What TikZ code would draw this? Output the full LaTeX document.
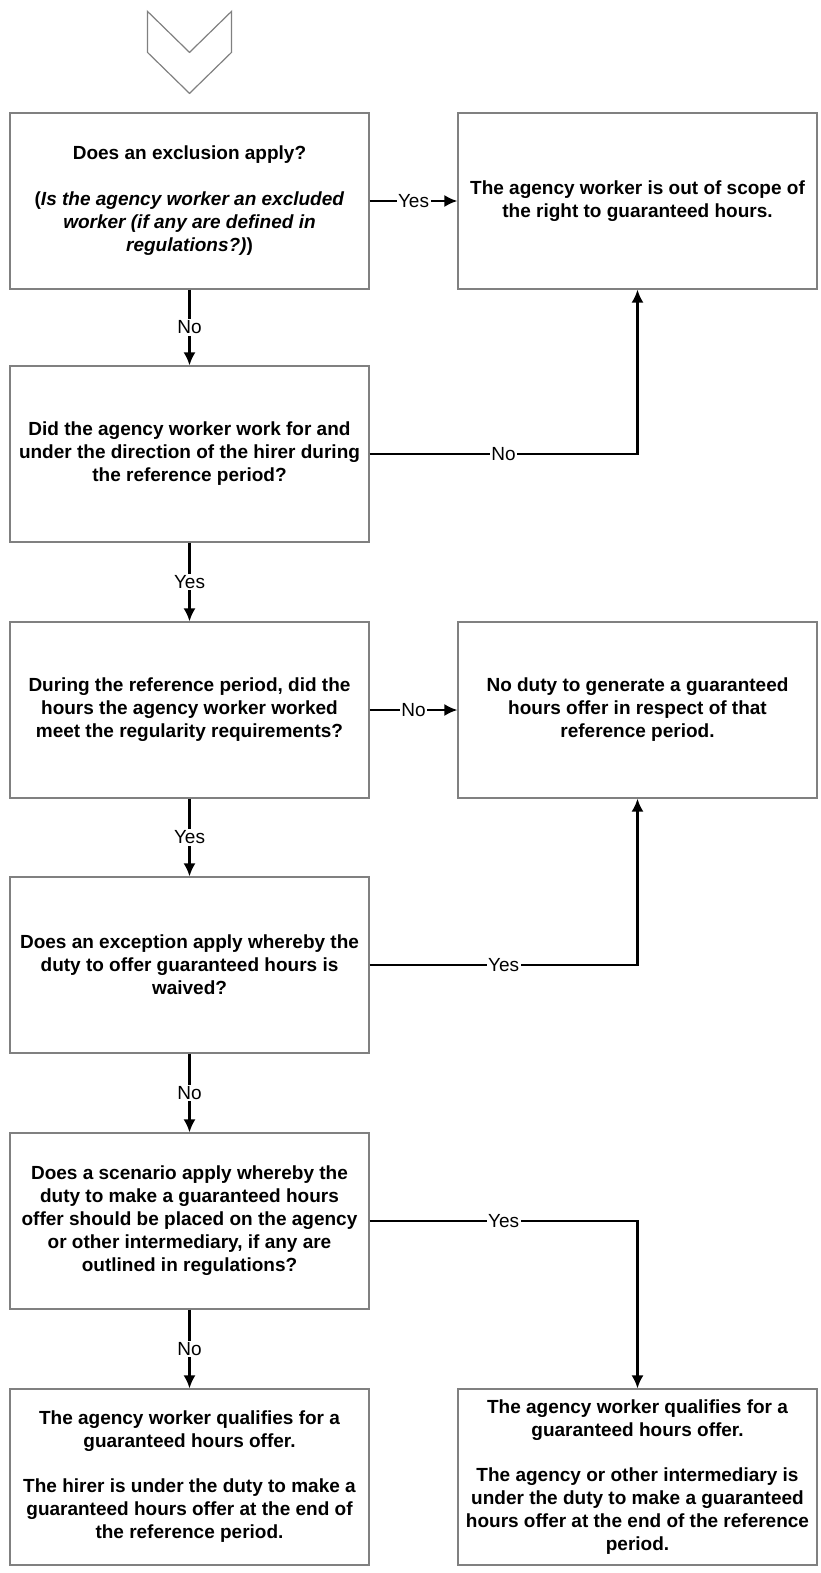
\documentclass[tikz,border=0pt]{standalone}
\usepackage{fontspec}
\setmainfont{Liberation Sans}
\usepackage{tikz}
\usetikzlibrary{positioning}
\usetikzlibrary{arrows.meta}

\begin{document}
\begin{tikzpicture}[x=1pt,y=1pt,
      box style/.style={rectangle,draw=black!50,line width=1.2pt,minimum
        width=359pt,minimum height=176pt,align=center,
        font=\fontsize{19}{23}\selectfont\bfseries},
      lbl style/.style={fill=white,inner sep=1.5pt,
        font=\fontsize{19}{23}\selectfont}
      ]
      \useasboundingbox (0,0) rectangle (821,-1573);

      \node[box style] at (189.5,-201) (excl) {Does an exclusion apply?\\[23pt]
        (\textit{Is the agency worker an excluded}\\
        \textit{worker (if any are defined in}\\
        \textit{regulations?)})};
      \node[box style, right=87.8pt of excl] (outscope) {The agency worker is out of scope of\\
        the right to guaranteed hours.};

      % chevron above the first question
      \draw[draw=black!50,line width=1.2pt,line join=miter]
        ([shift={(-42pt,101pt)}]excl.north) -- ++(42,-41) -- ++(42,41)
        -- ++(0,-41) -- ++(-42,-41) -- ++(-42,41) -- cycle;

      \node[box style, below=75.8pt of excl] (worked) {Did the agency worker work for and\\
        under the direction of the hirer during\\
        the reference period?};
      \node[box style, below=78.8pt of worked] (regular) {During the reference period, did the\\
        hours the agency worker worked\\
        meet the regularity requirements?};
      \node[box style, right=87.8pt of regular] (noduty) {No duty to generate a guaranteed\\
        hours offer in respect of that\\
        reference period.};
      \node[box style, below=77.8pt of regular] (waived) {Does an exception apply whereby the\\
        duty to offer guaranteed hours is\\
        waived?};
      \node[box style, below=78.8pt of waived] (scen) {Does a scenario apply whereby the\\
        duty to make a guaranteed hours\\
        offer should be placed on the agency\\
        or other intermediary, if any are\\
        outlined in regulations?};
      \node[box style, below=78.8pt of scen] (hirer) {The agency worker qualifies for a\\
        guaranteed hours offer.\\[22pt]
        The hirer is under the duty to make a\\
        guaranteed hours offer at the end of\\
        the reference period.};
      \node[box style, right=87.8pt of hirer] (agency) {The agency worker qualifies for a\\
        guaranteed hours offer.\\[22pt]
        The agency or other intermediary is\\
        under the duty to make a guaranteed\\
        hours offer at the end of the reference\\
        period.};

      \draw[-{Latex[length=13pt,width=12pt]},line width=2.2pt] (excl) -- node[lbl style] {Yes} (outscope);
      \draw[-{Latex[length=13pt,width=12pt]},line width=2.2pt] (excl) -- node[lbl style] {No} (worked);
      \draw[-{Latex[length=13pt,width=12pt]},line width=2.2pt] (worked) -| node[lbl style,pos=0.25] {No} (outscope);
      \draw[-{Latex[length=13pt,width=12pt]},line width=2.2pt] (worked) -- node[lbl style] {Yes} (regular);
      \draw[-{Latex[length=13pt,width=12pt]},line width=2.2pt] (regular) -- node[lbl style] {No} (noduty);
      \draw[-{Latex[length=13pt,width=12pt]},line width=2.2pt] (regular) -- node[lbl style] {Yes} (waived);
      \draw[-{Latex[length=13pt,width=12pt]},line width=2.2pt] (waived) -| node[lbl style,pos=0.25] {Yes} (noduty);
      \draw[-{Latex[length=13pt,width=12pt]},line width=2.2pt] (waived) -- node[lbl style] {No} (scen);
      \draw[-{Latex[length=13pt,width=12pt]},line width=2.2pt] (scen) -| node[lbl style,pos=0.25] {Yes} (agency);
      \draw[-{Latex[length=13pt,width=12pt]},line width=2.2pt] (scen) -- node[lbl style] {No} (hirer);

    \end{tikzpicture}
\end{document}
